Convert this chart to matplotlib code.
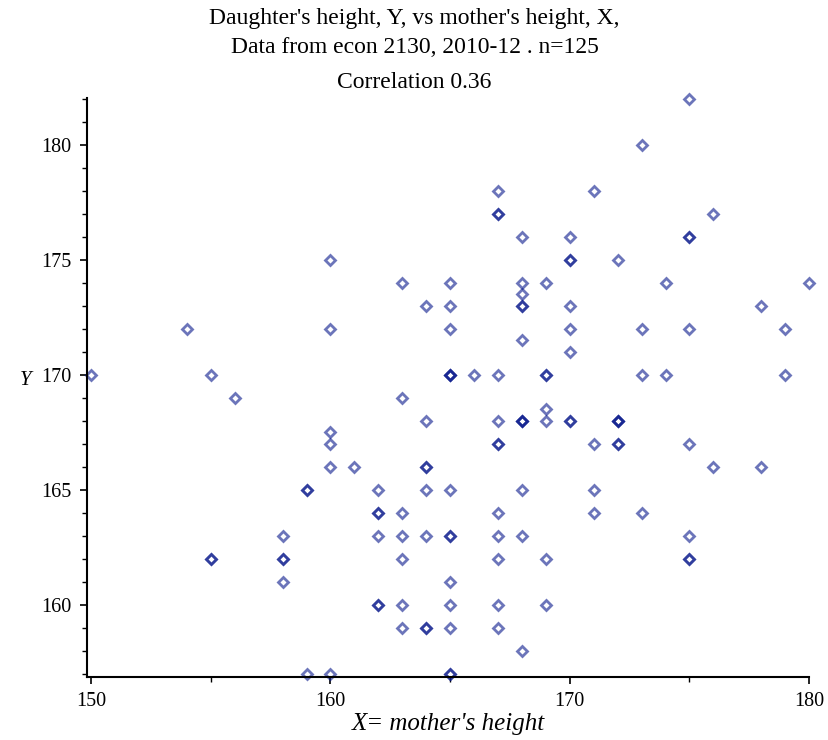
import numpy as np
import matplotlib
matplotlib.use("Agg")
import matplotlib.pyplot as plt
from matplotlib.ticker import MultipleLocator

# mother's height (X) and daughter's height (Y)
# repeated pairs show up as darker markers
mother = [150, 154, 155, 155, 155, 156, 158, 158, 158, 158, 159, 159, 159,
          160, 160, 160, 160, 160, 160, 161,
          162, 162, 162, 162, 162, 162,
          163, 163, 163, 163, 163, 163, 163,
          164, 164, 164, 164, 164, 164, 164, 164,
          165, 165, 165, 165, 165, 165, 165, 165, 165, 165, 165, 165, 165, 165,
          166,
          167, 167, 167, 167, 167, 167, 167, 167, 167, 167, 167, 167,
          168, 168, 168, 168, 168, 168, 168, 168, 168, 168, 168, 168,
          169, 169, 169, 169, 169, 169, 169,
          170, 170, 170, 170, 170, 170, 170, 170,
          171, 171, 171, 171,
          172, 172, 172, 172, 172, 172,
          173, 173, 173, 173,
          174, 174,
          175, 175, 175, 175, 175, 175, 175, 175,
          176, 176, 178, 178, 179, 179, 180]
daughter = [170, 172, 170, 162, 162, 169, 163, 162, 162, 161, 165, 165, 157,
            175, 172, 167.5, 167, 166, 157, 166,
            165, 164, 164, 163, 160, 160,
            174, 169, 164, 163, 162, 160, 159,
            173, 168, 166, 166, 165, 163, 159, 159,
            174, 173, 172, 170, 170, 170, 165, 163, 163, 161, 160, 159, 157, 157,
            170,
            178, 177, 177, 170, 168, 167, 167, 164, 163, 162, 160, 159,
            176, 174, 173.5, 173, 173, 171.5, 168, 168, 168, 165, 163, 158,
            174, 170, 170, 168.5, 168, 162, 160,
            176, 175, 175, 173, 172, 171, 168, 168,
            178, 167, 165, 164,
            175, 168, 168, 168, 167, 167,
            180, 172, 170, 164,
            174, 170,
            182, 176, 176, 172, 167, 163, 162, 162,
            177, 166, 173, 166, 172, 170, 174]

title_lines = ["Daughter's height, Y, vs mother's height, X,",
               "Data from econ 2130, 2010-12 . n=125",
               "Correlation 0.36"]

plt.rcParams['font.family'] = ['Liberation Serif', 'DejaVu Serif']

fig = plt.figure(figsize=(8.29, 7.40), dpi=100)
ax = fig.add_axes([0.105, 0.085, 0.871, 0.783])

ax.plot(mother, daughter, linestyle='none', marker='D', markersize=4.6,
        markerfacecolor='none', markeredgecolor='#0a1a8c',
        markeredgewidth=2.0, alpha=0.6, clip_on=False)

ax.set_xlim(149.83, 180)
ax.set_ylim(156.87, 182.05)

ax.spines['top'].set_visible(False)
ax.spines['right'].set_visible(False)
ax.spines['left'].set_linewidth(1.5)
ax.spines['bottom'].set_linewidth(1.5)

ax.xaxis.set_major_locator(MultipleLocator(10))
ax.xaxis.set_minor_locator(MultipleLocator(5))
ax.yaxis.set_major_locator(MultipleLocator(5))
ax.yaxis.set_minor_locator(MultipleLocator(1))
ax.tick_params(which='major', length=5, width=1.2, labelsize=14.5, pad=6)
ax.tick_params(which='minor', length=3.5, width=1.0)

ax.set_xlabel("X= mother's height", fontsize=18, style='italic', labelpad=1)
ax.set_ylabel("Y", fontsize=15, style='italic', rotation=0, labelpad=14)
ax.yaxis.set_label_coords(-0.085, 0.495)

ys = [0.975, 0.936, 0.889]
for txt, y in zip(title_lines, ys):
    fig.text(0.5, y, txt, ha='center', va='center', fontsize=17)

fig.savefig("out.png", dpi=100)
